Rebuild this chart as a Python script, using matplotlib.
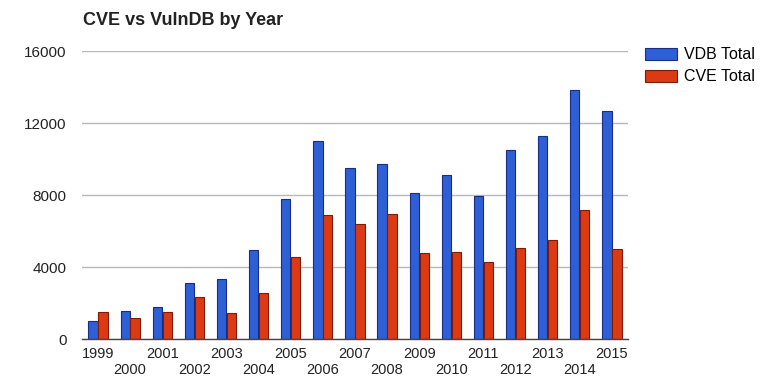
import matplotlib
matplotlib.use("Agg")
import matplotlib.pyplot as plt
import numpy as np

years = [str(y) for y in range(1999, 2016)]
vdb_total = [1000, 1550, 1780, 3100, 3330, 4940, 7800, 11000, 9500,
             9720, 8130, 9130, 7930, 10500, 11260, 13850, 12650]
cve_total = [1500, 1170, 1500, 2330, 1440, 2570, 4570, 6900, 6390,
             6940, 4800, 4830, 4280, 5060, 5480, 7190, 5000]
y_ticks = [0, 4000, 8000, 12000, 16000]

plt.rcParams['font.family'] = ['Liberation Sans', 'DejaVu Sans']

fig = plt.figure(figsize=(7.7, 3.78), dpi=100)
ax = fig.add_axes([0.1065, 0.103, 0.709, 0.762])

x = np.arange(len(years))
w = 0.29
ax.bar(x - w / 2 - 0.01, vdb_total, w, color='#2f5fd6', edgecolor='#1a2d86',
       linewidth=0.8, label='VDB Total', zorder=3)
ax.bar(x + w / 2 + 0.01, cve_total, w, color='#dc3a12', edgecolor='#7e1a08',
       linewidth=0.8, label='CVE Total', zorder=3)

ax.set_xlim(-0.5, len(years) - 0.5)
ax.set_ylim(0, 16000)
ax.set_yticks(y_ticks)
ax.set_yticklabels([str(v) for v in y_ticks])
ax.set_xticks(x)
ax.set_xticklabels(years)

for s in ['top', 'right', 'left']:
    ax.spines[s].set_visible(False)
ax.spines['bottom'].set_color('#444444')
ax.spines['bottom'].set_linewidth(1.0)
ax.spines['bottom'].set_zorder(4)

ax.grid(axis='y', color='#b8b8b8', linewidth=1.0, zorder=0)
ax.tick_params(axis='x', length=0, labelsize=10.5, colors='#222222')
ax.tick_params(axis='y', length=0, labelsize=11, colors='#222222', pad=11)
# staggered year labels, two rows
for i, t in enumerate(ax.xaxis.get_major_ticks()):
    t.set_pad(5.5 if i % 2 == 0 else 17)

fig.text(0.108, 0.945, 'CVE vs VulnDB by Year', fontsize=13, fontweight='bold',
         color='#222222', ha='left', va='center')

fig.legend(loc='upper left', bbox_to_anchor=(0.838, 0.875), frameon=False,
           fontsize=11.5, handlelength=2.0, handleheight=0.75, handletextpad=0.4,
           labelspacing=0.45, borderaxespad=0, borderpad=0)

fig.savefig('out.png', dpi=100)
